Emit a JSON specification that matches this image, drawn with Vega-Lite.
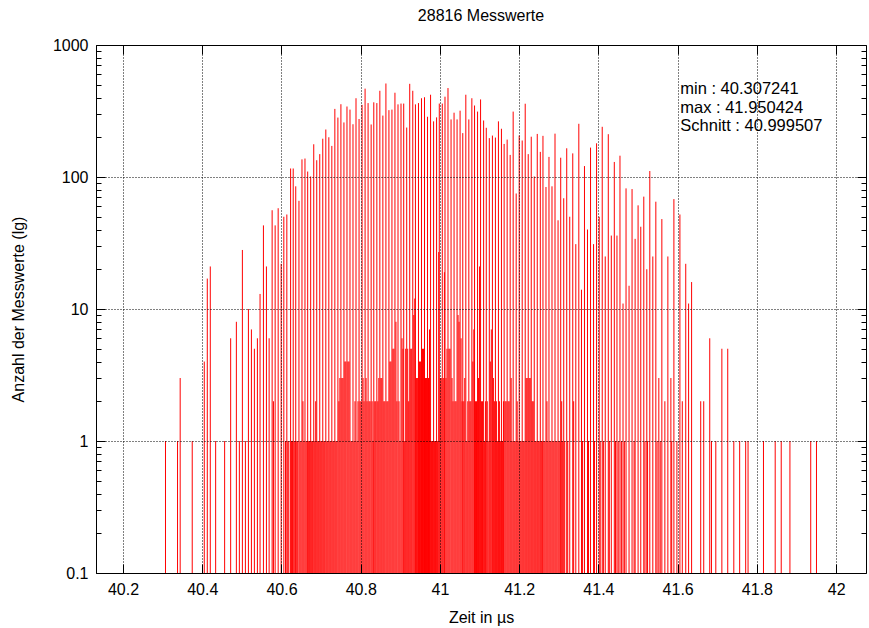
{
  "$schema": "https://vega.github.io/schema/vega-lite/v6.json",
  "width": 770,
  "height": 528,
  "autosize": "none",
  "padding": {"left": 96, "top": 45, "right": 3, "bottom": 55},
  "background": "white",
  "config": {"view": {"stroke": "black", "strokeWidth": 1}, "font": "Liberation Sans"},
  "title": {"text": "28816 Messwerte", "fontSize": 16, "fontWeight": "normal", "font": "Liberation Sans", "color": "black", "offset": -3, "baseline": "bottom", "anchor": "middle"},
  "layer": [
    {
      "data": {"values": [
        {"t":40.3072,"n":1},{"t":40.3376,"n":1},{"t":40.3443,"n":3},{"t":40.3747,"n":1},{"t":40.4051,"n":4},{"t":40.4127,"n":17},{"t":40.4203,"n":21},{"t":40.4338,"n":1},{"t":40.4565,"n":1},{"t":40.4717,"n":6},{"t":40.4861,"n":8},{"t":40.4937,"n":1},{"t":40.5013,"n":28},{"t":40.5089,"n":1},{"t":40.5165,"n":10},{"t":40.5241,"n":7},{"t":40.5316,"n":5},{"t":40.5392,"n":6},{"t":40.5459,"n":13},{"t":40.5544,"n":43},{"t":40.562,"n":21},{"t":40.5688,"n":6},{"t":40.5764,"n":56},{"t":40.5797,"n":2},{"t":40.584,"n":43},{"t":40.5916,"n":58},{"t":40.5992,"n":22},{"t":40.6059,"n":50},{"t":40.6101,"n":1},{"t":40.6135,"n":52},{"t":40.623,"n":116},{"t":40.6296,"n":116},{"t":40.636,"n":85},{"t":40.6441,"n":66},{"t":40.6517,"n":136},{"t":40.6593,"n":138},{"t":40.6661,"n":110},{"t":40.6737,"n":101},{"t":40.6814,"n":177},{"t":40.689,"n":134},{"t":40.6966,"n":149},{"t":40.7042,"n":195},{"t":40.7119,"n":229},{"t":40.7195,"n":200},{"t":40.7271,"n":172},{"t":40.7347,"n":328},{"t":40.7424,"n":282},{"t":40.75,"n":356},{"t":40.7576,"n":259},{"t":40.7653,"n":342},{"t":40.7729,"n":324},{"t":40.7805,"n":251},{"t":40.7881,"n":395},{"t":40.7958,"n":275},{"t":40.8034,"n":352},{"t":40.811,"n":467},{"t":40.8186,"n":363},{"t":40.8263,"n":250},{"t":40.833,"n":368},{"t":40.8407,"n":363},{"t":40.8483,"n":450},{"t":40.8559,"n":292},{"t":40.8636,"n":511},{"t":40.8712,"n":321},{"t":40.8788,"n":324},{"t":40.8864,"n":435},{"t":40.8941,"n":355},{"t":40.9017,"n":360},{"t":40.9085,"n":360},{"t":40.9161,"n":237},{"t":40.9237,"n":508},{"t":40.9314,"n":450},{"t":40.9381,"n":355},{"t":40.9458,"n":363},{"t":40.9534,"n":395},{"t":40.961,"n":402},{"t":40.9686,"n":286},{"t":40.9763,"n":420},{"t":40.9839,"n":264},{"t":40.9915,"n":283},{"t":40.9983,"n":360},{"t":41.0059,"n":360},{"t":41.0127,"n":406},{"t":41.0203,"n":472},{"t":41.028,"n":273},{"t":41.0356,"n":307},{"t":41.0432,"n":273},{"t":41.0508,"n":318},{"t":41.0576,"n":215},{"t":41.0653,"n":420},{"t":41.0729,"n":273},{"t":41.0805,"n":395},{"t":41.0873,"n":348},{"t":41.0949,"n":313},{"t":41.1025,"n":387},{"t":41.1102,"n":268},{"t":41.1169,"n":236},{"t":41.1246,"n":197},{"t":41.1324,"n":206},{"t":41.14,"n":199},{"t":41.1476,"n":264},{"t":41.1552,"n":232},{"t":41.162,"n":178},{"t":41.1696,"n":192},{"t":41.1772,"n":147},{"t":41.1848,"n":313},{"t":41.1924,"n":75},{"t":41.2,"n":206},{"t":41.2076,"n":189},{"t":41.2152,"n":359},{"t":41.2228,"n":149},{"t":41.2304,"n":202},{"t":41.238,"n":101},{"t":41.2456,"n":212},{"t":41.2533,"n":155},{"t":41.26,"n":205},{"t":41.2676,"n":84},{"t":41.2752,"n":142},{"t":41.2828,"n":85},{"t":41.2904,"n":213},{"t":41.2981,"n":47},{"t":41.3048,"n":140},{"t":41.3124,"n":69},{"t":41.32,"n":165},{"t":41.3276,"n":50},{"t":41.3352,"n":151},{"t":41.3429,"n":31},{"t":41.3505,"n":253},{"t":41.3572,"n":14},{"t":41.3648,"n":121},{"t":41.3724,"n":40},{"t":41.3801,"n":167},{"t":41.3877,"n":31},{"t":41.3953,"n":180},{"t":41.402,"n":50},{"t":41.4096,"n":240},{"t":41.4172,"n":25},{"t":41.4249,"n":211},{"t":41.4325,"n":36},{"t":41.4401,"n":130},{"t":41.4468,"n":36},{"t":41.4544,"n":145},{"t":41.4621,"n":11},{"t":41.4697,"n":82},{"t":41.4773,"n":15},{"t":41.4849,"n":81},{"t":41.4926,"n":34},{"t":41.5001,"n":61},{"t":41.5069,"n":42},{"t":41.5145,"n":71},{"t":41.5221,"n":20},{"t":41.5297,"n":111},{"t":41.5373,"n":25},{"t":41.5449,"n":65},{"t":41.5525,"n":3},{"t":41.5601,"n":48},{"t":41.5677,"n":2},{"t":41.5753,"n":25},{"t":41.5829,"n":3},{"t":41.5905,"n":68},{"t":41.5981,"n":1},{"t":41.6057,"n":52},{"t":41.6117,"n":2},{"t":41.6204,"n":22},{"t":41.6276,"n":11},{"t":41.6352,"n":16},{"t":41.6582,"n":2},{"t":41.6658,"n":2},{"t":41.681,"n":6},{"t":41.6853,"n":1},{"t":41.6963,"n":1},{"t":41.7116,"n":5},{"t":41.7264,"n":5},{"t":41.7417,"n":1},{"t":41.7565,"n":1},{"t":41.7717,"n":1},{"t":41.7777,"n":1},{"t":41.8166,"n":1},{"t":41.8462,"n":1},{"t":41.8614,"n":1},{"t":41.8834,"n":1},{"t":41.9359,"n":1},{"t":41.9504,"n":1},
        {"t":40.616,"n":1},{"t":40.6185,"n":1},{"t":40.6255,"n":1},{"t":40.628,"n":1},{"t":40.6321,"n":1},{"t":40.6346,"n":1},{"t":40.6385,"n":1},{"t":40.641,"n":1},{"t":40.6466,"n":1},{"t":40.6491,"n":1},{"t":40.6542,"n":2},{"t":40.6567,"n":1},{"t":40.6618,"n":1},{"t":40.6643,"n":1},{"t":40.6686,"n":1},{"t":40.6711,"n":1},{"t":40.6762,"n":1},{"t":40.6787,"n":1},{"t":40.6839,"n":1},{"t":40.6864,"n":2},{"t":40.6915,"n":1},{"t":40.694,"n":1},{"t":40.6991,"n":1},{"t":40.7016,"n":1},{"t":40.7067,"n":1},{"t":40.7092,"n":1},{"t":40.7144,"n":1},{"t":40.7169,"n":1},{"t":40.722,"n":1},{"t":40.7245,"n":1},{"t":40.7296,"n":1},{"t":40.7321,"n":1},{"t":40.7372,"n":1},{"t":40.7397,"n":1},{"t":40.7449,"n":2},{"t":40.7474,"n":3},{"t":40.7525,"n":3},{"t":40.755,"n":3},{"t":40.7601,"n":4},{"t":40.7626,"n":4},{"t":40.7678,"n":4},{"t":40.7703,"n":4},{"t":40.7754,"n":1},{"t":40.7779,"n":1},{"t":40.783,"n":1},{"t":40.7855,"n":2},{"t":40.7906,"n":1},{"t":40.7931,"n":2},{"t":40.7983,"n":2},{"t":40.8008,"n":2},{"t":40.8059,"n":3},{"t":40.8084,"n":2},{"t":40.8135,"n":3},{"t":40.816,"n":2},{"t":40.8211,"n":2},{"t":40.8236,"n":2},{"t":40.8288,"n":2},{"t":40.8313,"n":1},{"t":40.8355,"n":2},{"t":40.838,"n":2},{"t":40.8432,"n":2},{"t":40.8457,"n":3},{"t":40.8508,"n":3},{"t":40.8533,"n":3},{"t":40.8584,"n":2},{"t":40.8609,"n":2},{"t":40.8661,"n":2},{"t":40.8686,"n":2},{"t":40.8737,"n":4},{"t":40.8762,"n":4},{"t":40.8813,"n":5},{"t":40.8838,"n":5},{"t":40.8889,"n":8},{"t":40.8914,"n":2},{"t":40.8966,"n":2},{"t":40.8991,"n":1},{"t":40.9042,"n":6},{"t":40.9067,"n":5},{"t":40.911,"n":1},{"t":40.9135,"n":5},{"t":40.9186,"n":5},{"t":40.9211,"n":2},{"t":40.9262,"n":5},{"t":40.9287,"n":5},{"t":40.9339,"n":9},{"t":40.9364,"n":12},{"t":40.9406,"n":3},{"t":40.9431,"n":3},{"t":40.9483,"n":4},{"t":40.9508,"n":4},{"t":40.9559,"n":5},{"t":40.9584,"n":5},{"t":40.9635,"n":3},{"t":40.966,"n":3},{"t":40.9711,"n":3},{"t":40.9736,"n":7},{"t":40.9788,"n":1},{"t":40.9813,"n":1},{"t":40.9864,"n":1},{"t":40.9889,"n":1},{"t":40.994,"n":1},{"t":40.9968,"n":27},{"t":41.0008,"n":3},{"t":41.0033,"n":3},{"t":41.0084,"n":3},{"t":41.0112,"n":19},{"t":41.0152,"n":3},{"t":41.0177,"n":5},{"t":41.0228,"n":5},{"t":41.0253,"n":5},{"t":41.0305,"n":3},{"t":41.033,"n":2},{"t":41.0381,"n":2},{"t":41.0406,"n":2},{"t":41.0457,"n":9},{"t":41.0482,"n":8},{"t":41.0533,"n":6},{"t":41.0558,"n":2},{"t":41.0601,"n":2},{"t":41.0626,"n":3},{"t":41.0678,"n":1},{"t":41.0703,"n":2},{"t":41.0754,"n":2},{"t":41.0779,"n":2},{"t":41.083,"n":4},{"t":41.0855,"n":7},{"t":41.0898,"n":2},{"t":41.0923,"n":2},{"t":41.0974,"n":3},{"t":41.1,"n":21},{"t":41.105,"n":2},{"t":41.1075,"n":2},{"t":41.1127,"n":1},{"t":41.1152,"n":2},{"t":41.1194,"n":2},{"t":41.1219,"n":1},{"t":41.1271,"n":4},{"t":41.1296,"n":7},{"t":41.1349,"n":3},{"t":41.1374,"n":2},{"t":41.1425,"n":2},{"t":41.145,"n":1},{"t":41.1501,"n":2},{"t":41.1526,"n":1},{"t":41.1577,"n":1},{"t":41.1602,"n":2},{"t":41.1645,"n":2},{"t":41.167,"n":2},{"t":41.1721,"n":2},{"t":41.1746,"n":2},{"t":41.1797,"n":3},{"t":41.1822,"n":1},{"t":41.1873,"n":1},{"t":41.1898,"n":1},{"t":41.1949,"n":2},{"t":41.1974,"n":1},{"t":41.2025,"n":1},{"t":41.205,"n":1},{"t":41.2101,"n":1},{"t":41.2126,"n":1},{"t":41.2177,"n":3},{"t":41.2202,"n":3},{"t":41.2253,"n":3},{"t":41.2278,"n":3},{"t":41.2329,"n":2},{"t":41.2354,"n":2},{"t":41.2405,"n":1},{"t":41.243,"n":1},{"t":41.2481,"n":1},{"t":41.2506,"n":1},{"t":41.2558,"n":1},{"t":41.2583,"n":1},{"t":41.2625,"n":1},{"t":41.265,"n":1},{"t":41.2701,"n":2},{"t":41.2726,"n":1},{"t":41.2777,"n":1},{"t":41.2802,"n":1},{"t":41.2853,"n":1},{"t":41.2878,"n":1},{"t":41.2929,"n":1},{"t":41.2954,"n":1},{"t":41.3006,"n":1},{"t":41.3031,"n":1},{"t":41.3073,"n":2},{"t":41.3098,"n":1},{"t":41.3149,"n":1},{"t":41.3225,"n":1},{"t":41.3375,"n":2},{"t":41.36,"n":1},{"t":41.375,"n":1},{"t":41.39,"n":1},{"t":41.4045,"n":1},{"t":41.4125,"n":1},{"t":41.4275,"n":1},{"t":41.443,"n":1},{"t":41.45,"n":1},{"t":41.458,"n":1},{"t":41.4655,"n":1},{"t":41.49,"n":1},{"t":41.5175,"n":1},{"t":41.524,"n":1},{"t":41.548,"n":1},{"t":41.556,"n":1},{"t":41.585,"n":1}
      ]},
      "mark": {"type": "rule", "color": "#ff0000", "strokeWidth": 1},
      "encoding": {
        "x": {"field": "t", "type": "quantitative",
          "scale": {"domain": [40.1318, 42.0754], "nice": false, "zero": false},
          "axis": {"orient": "bottom", "values": [40.2, 40.4, 40.6, 40.8, 41, 41.2, 41.4, 41.6, 41.8, 42], "format": "~g",
            "title": "Zeit in µs", "titleFont": "Liberation Sans", "titleFontSize": 16, "titleFontWeight": "normal", "titleColor": "black", "titlePadding": 12,
            "labelFont": "Liberation Sans", "labelFontSize": 16, "labelColor": "black", "labelPadding": 17, "labelFlush": false, "labelOverlap": false,
            "domain": false, "ticks": true, "tickSize": -9, "tickColor": "black", "tickWidth": 1,
            "grid": true, "gridColor": "black", "gridDash": [1, 2], "gridWidth": 1, "gridOpacity": 1, "zindex": 1}},
        "y": {"field": "n", "type": "quantitative",
          "scale": {"type": "log", "domain": [0.1, 1000], "nice": false},
          "axis": {"orient": "left", "values": [0.1,0.2,0.3,0.4,0.5,0.6,0.7,0.8,0.9,1,2,3,4,5,6,7,8,9,10,20,30,40,50,60,70,80,90,100,200,300,400,500,600,700,800,900,1000],
            "format": "~g", "labelExpr": "indexof([0.1,1,10,100,1000], datum.value) >= 0 ? datum.label : ''",
            "title": "Anzahl der Messwerte (lg)", "titleFont": "Liberation Sans", "titleFontSize": 16, "titleFontWeight": "normal", "titleColor": "black", "titlePadding": 26,
            "labelFont": "Liberation Sans", "labelFontSize": 16, "labelColor": "black", "labelPadding": 17, "labelOverlap": false, "labelFlush": false,
            "domain": false, "ticks": true, "tickColor": "black", "tickWidth": 1,
            "tickSize": {"condition": {"test": "indexof([0.1,1,10,100,1000], datum.value) < 0", "value": -5}, "value": -9},
            "grid": true, "gridColor": "black", "gridDash": [1, 2], "gridWidth": 1,
            "gridOpacity": {"condition": {"test": "indexof([0.1,1,10,100,1000], datum.value) >= 0", "value": 1}, "value": 0},
            "zindex": 1}},
        "y2": {"datum": 0.1}
      }
    },
    {
      "data": {"values": [
        {"t": 41.6066, "n": 464, "label": "min : 40.307241"},
        {"t": 41.6066, "n": 336, "label": "max : 41.950424"},
        {"t": 41.6066, "n": 243, "label": "Schnitt : 40.999507"}
      ]},
      "mark": {"type": "text", "align": "left", "baseline": "middle", "font": "Liberation Sans", "fontSize": 16.5, "color": "black"},
      "encoding": {
        "x": {"field": "t", "type": "quantitative",
          "scale": {"domain": [40.1318, 42.0754], "nice": false, "zero": false},
          "axis": {"orient": "top", "values": [40.2, 40.4, 40.6, 40.8, 41, 41.2, 41.4, 41.6, 41.8, 42], "labels": false, "title": null,
            "domain": false, "ticks": true, "tickSize": -9, "tickColor": "black", "grid": false}},
        "y": {"field": "n", "type": "quantitative",
          "scale": {"type": "log", "domain": [0.1, 1000], "nice": false},
          "axis": {"orient": "right", "values": [0.1,0.2,0.3,0.4,0.5,0.6,0.7,0.8,0.9,1,2,3,4,5,6,7,8,9,10,20,30,40,50,60,70,80,90,100,200,300,400,500,600,700,800,900,1000],
            "labels": false, "title": null, "domain": false, "ticks": true, "tickColor": "black",
            "tickSize": {"condition": {"test": "indexof([0.1,1,10,100,1000], datum.value) < 0", "value": -5}, "value": -9},
            "grid": false}},
        "text": {"field": "label"}
      }
    }
  ],
  "resolve": {"axis": {"x": "independent", "y": "independent"}}
}
